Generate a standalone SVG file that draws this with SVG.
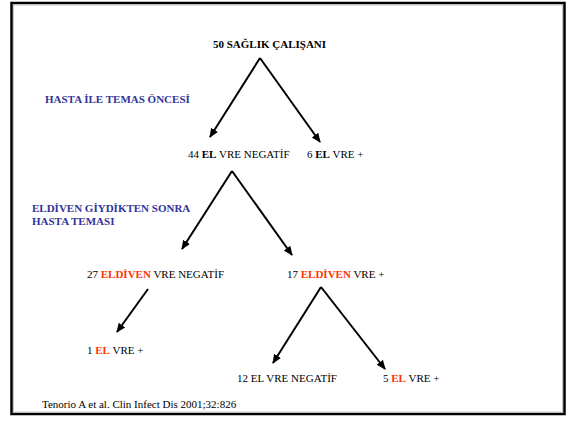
<svg xmlns="http://www.w3.org/2000/svg" width="575" height="425" viewBox="0 0 575 425">
<style>
text{font-family:"Liberation Serif","Times New Roman",serif;font-size:11px;fill:#000}
.b{font-weight:bold}
.blue{fill:#333399;font-weight:bold}
.red{fill:#ff3300;font-weight:bold}
.c{stroke:#000;stroke-width:2;fill:none;marker-end:url(#ah)}
</style>
<defs>
<marker id="ah" markerUnits="userSpaceOnUse" markerWidth="10" markerHeight="10" viewBox="0 0 10 10" refX="8.5" refY="5" orient="auto">
<path d="M0,1 L9.5,5 L0,9 Z" fill="#000"/>
</marker>
</defs>
<rect x="0" y="0" width="575" height="425" fill="#fff"/>
<rect x="11.5" y="3" width="553" height="411" fill="none" stroke="#000" stroke-width="2.5"/>
<rect x="13.5" y="5" width="549" height="407" fill="none" stroke="#bbb" stroke-width="0.8"/>
<g id="connectors">
<path class="c" d="M260,58 L210,137"/>
<path class="c" d="M260,58 L320,142"/>
<path class="c" d="M232,171 L182,249"/>
<path class="c" d="M232,171 L292,255"/>
<path class="c" d="M148,289 L117,332"/>
<path class="c" d="M321,287 L273,363"/>
<path class="c" d="M321,287 L385,369"/>
</g>
<g id="n50"><text class="b" x="213" y="48">50 SAĞLIK ÇALIŞANI</text></g>
<g id="lbl1"><text class="blue" x="45" y="103">HASTA İLE TEMAS ÖNCESİ</text></g>
<g id="n44"><text x="188" y="158">44 <tspan class="b">EL</tspan> VRE NEGATİF</text></g>
<g id="n6"><text x="307" y="158">6 <tspan class="b">EL</tspan> VRE +</text></g>
<g id="lbl2"><text class="blue" x="32" y="212">ELDİVEN GİYDİKTEN SONRA</text><text class="blue" x="32" y="225">HASTA TEMASI</text></g>
<g id="n27"><text x="87" y="278">27 <tspan class="red">ELDİVEN</tspan> VRE NEGATİF</text></g>
<g id="n17"><text x="287" y="278">17 <tspan class="red">ELDİVEN</tspan> VRE +</text></g>
<g id="n1"><text x="87" y="354">1 <tspan class="red">EL</tspan> VRE +</text></g>
<g id="n12"><text x="237" y="382">12 EL VRE NEGATİF</text></g>
<g id="n5"><text x="383" y="382">5 <tspan class="red">EL</tspan> VRE +</text></g>
<g id="ref"><text x="42" y="408">Tenorio A et al. Clin Infect Dis 2001;32:826</text></g>
</svg>
